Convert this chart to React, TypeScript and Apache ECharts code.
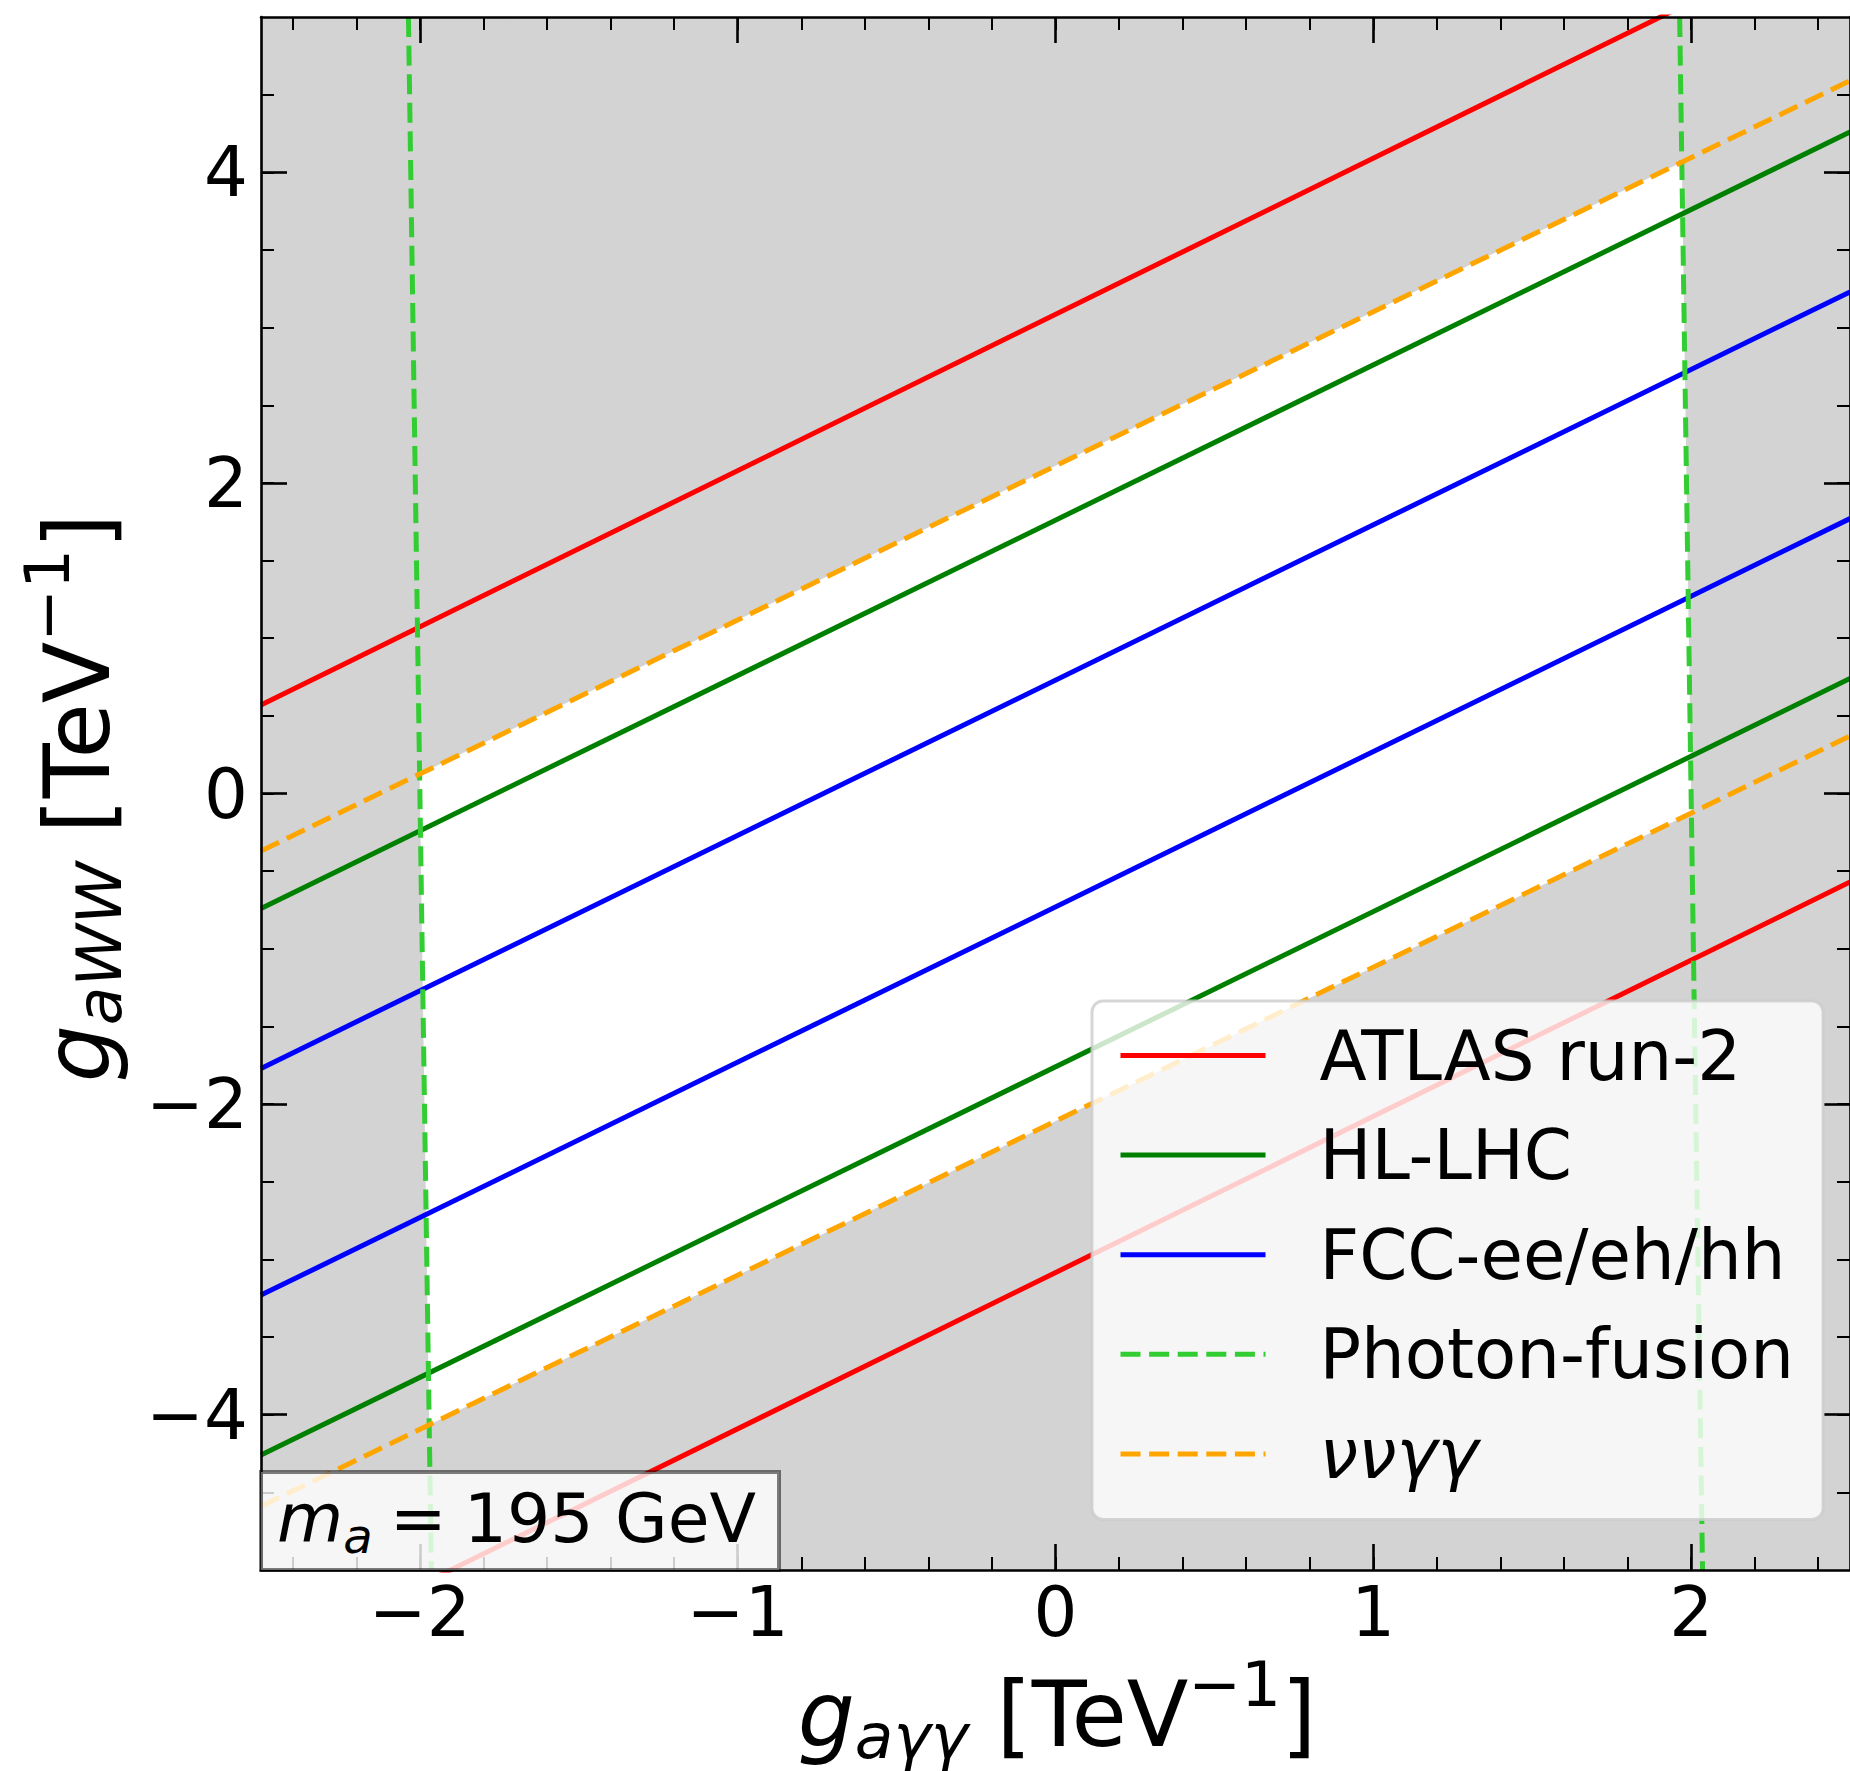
import React, { useEffect, useRef } from 'react';
import * as echarts from 'echarts';

// ---- axis ranges & ticks ----
const X_RANGE = [-2.5, 2.5];
const Y_RANGE = [-5, 5];
const X_MAJOR = [-2, -1, 0, 1, 2];
const Y_MAJOR = [-4, -2, 0, 2, 4];
const X_MINOR = [-2.4, -2.2, -2.0, -1.8, -1.6, -1.4, -1.2, -1.0, -0.8, -0.6, -0.4, -0.2, 0, 0.2, 0.4, 0.6, 0.8, 1.0, 1.2, 1.4, 1.6, 1.8, 2.0, 2.2, 2.4];
const Y_MINOR = [-4.5, -4, -3.5, -3, -2.5, -2, -1.5, -1, -0.5, 0, 0.5, 1, 1.5, 2, 2.5, 3, 3.5, 4, 4.5];

// ---- constraint boundaries [x, y] ----
const atlasUpper = [[-2.5, 0.57], [2.5, 5.6]];
const atlasLower = [[-2.5, -5.6], [2.5, -0.57]];
const hllhcUpper = [[-2.5, -0.74], [2.5, 4.26]];
const hllhcLower = [[-2.5, -4.26], [2.5, 0.74]];
const fccUpper = [[-2.5, -1.77], [2.5, 3.23]];
const fccLower = [[-2.5, -3.23], [2.5, 1.77]];
const photonLeft = [[-2.036, 5], [-1.964, -5]];
const photonRight = [[1.964, 5], [2.036, -5]];
const nnggUpper = [[-2.5, -0.37], [2.5, 4.59]];
const nnggLower = [[-2.5, -4.59], [2.5, 0.37]];

const LEGEND_NAMES = ['ATLAS run-2', 'HL-LHC', 'FCC-ee/eh/hh', 'Photon-fusion', 'ννγγ'];
const MASS_LABEL = '195 GeV';

const FONT = 'DejaVu Sans';

function intersect(a: number[][], b: number[][]): number[] {
  const [x1, y1] = a[0], [x2, y2] = a[1], [x3, y3] = b[0], [x4, y4] = b[1];
  const d = (x1 - x2) * (y3 - y4) - (y1 - y2) * (x3 - x4);
  const t = ((x1 - x3) * (y3 - y4) - (y1 - y3) * (x3 - x4)) / d;
  return [x1 + t * (x2 - x1), y1 + t * (y2 - y1)];
}

const fmt = (v: number) => (v < 0 ? '\u2212' + Math.abs(v) : String(v));

export default function App() {
  const ref = useRef<HTMLDivElement>(null);
  useEffect(() => {
    if (!ref.current) return;
    const chart = echarts.init(ref.current, undefined, { renderer: 'svg' });

    const corners = [
      intersect(photonLeft, nnggUpper),
      intersect(photonRight, nnggUpper),
      intersect(photonRight, nnggLower),
      intersect(photonLeft, nnggLower),
    ];

    const axisLineStyle = { color: '#000', width: 2.6 };
    const mkX = (position: string, major: boolean, withLabel: boolean) => ({
      type: 'value',
      gridIndex: 0,
      position,
      min: X_RANGE[0],
      max: X_RANGE[1],
      z: 5,
      axisLine: { show: major, onZero: false, lineStyle: axisLineStyle },
      axisTick: {
        show: true,
        inside: true,
        length: major ? 26 : 13,
        customValues: major ? X_MAJOR : X_MINOR,
        lineStyle: { color: '#000', width: major ? 2.6 : 2 },
      },
      axisLabel: withLabel
        ? {
            show: true,
            customValues: X_MAJOR,
            formatter: fmt,
            fontSize: 69,
            fontFamily: FONT,
            color: '#000',
            margin: 7,
          }
        : { show: false },
      splitLine: { show: false },
    });
    const mkY = (position: string, major: boolean, withLabel: boolean) => ({
      type: 'value',
      gridIndex: 0,
      position,
      min: Y_RANGE[0],
      max: Y_RANGE[1],
      z: 5,
      axisLine: { show: major, onZero: false, lineStyle: axisLineStyle },
      axisTick: {
        show: true,
        inside: true,
        length: major ? 26 : 13,
        customValues: major ? Y_MAJOR : Y_MINOR,
        lineStyle: { color: '#000', width: major ? 2.6 : 2 },
      },
      axisLabel: withLabel
        ? {
            show: true,
            customValues: Y_MAJOR,
            formatter: fmt,
            fontSize: 69,
            fontFamily: FONT,
            color: '#000',
            margin: 13,
          }
        : { show: false },
      splitLine: { show: false },
    });

    const lineSeries = (name: string, data: number[][], color: string, dashed: boolean) => ({
      type: 'line',
      name,
      data,
      xAxisIndex: 0,
      yAxisIndex: 0,
      symbol: 'none',
      showSymbol: false,
      clip: true,
      z: 3,
      lineStyle: { color, width: 5, type: dashed ? [20, 8.6] : 'solid', cap: 'butt' },
      itemStyle: { color },
      emphasis: { disabled: true },
    });

    const legendRich = {
      n: { fontSize: 69, fontFamily: FONT, color: '#000', padding: [0, 0, 0, 49], lineHeight: 72 },
      i: { fontSize: 69, fontFamily: FONT, fontStyle: 'italic', color: '#000', padding: [0, 0, 0, 49], lineHeight: 72 },
    };

    const titleRich = {
      g: { fontSize: 90, fontFamily: FONT, fontStyle: 'italic', fill: '#000' },
      s: { fontSize: 63, fontFamily: FONT, fontStyle: 'italic', fill: '#000', padding: [45, 0, 0, 0] },
      t: { fontSize: 90, fontFamily: FONT, fill: '#000' },
      p: { fontSize: 63, fontFamily: FONT, fill: '#000', padding: [0, 0, 59, 0] },
    };

    chart.setOption({
      animation: false,
      grid: {
        left: 261,
        top: 17,
        width: 1597,
        height: 1553,
        show: true,
        backgroundColor: '#d3d3d3',
        borderWidth: 0,
        containLabel: false,
      },
      xAxis: [mkX('bottom', true, true), mkX('top', true, false), mkX('bottom', false, false), mkX('top', false, false)],
      yAxis: [mkY('left', true, true), mkY('right', true, false), mkY('left', false, false), mkY('right', false, false)],
      legend: {
        data: LEGEND_NAMES,
        orient: 'vertical',
        left: 1092,
        top: 1001,
        padding: [20, 29, 31, 26],
        itemWidth: 145,
        itemHeight: 14,
        itemGap: 30.6,
        selectedMode: false,
        backgroundColor: 'rgba(255,255,255,0.8)',
        borderColor: 'rgba(204,204,204,0.8)',
        borderWidth: 3,
        borderRadius: 11,
        z: 10,
        itemStyle: { opacity: 0, borderWidth: 0 },
        lineStyle: { width: 5 },
        formatter: (name: string) => (name === 'ννγγ' ? '{i|' + name + '}' : '{n|' + name + '}'),
        textStyle: { fontSize: 69, fontFamily: FONT, color: '#000', rich: legendRich },
      },
      graphic: [
        {
          type: 'rect',
          z: 100,
          shape: { x: 261, y: 1472, width: 518, height: 98 },
          style: { fill: 'rgba(255,255,255,0.8)', stroke: 'rgba(0,0,0,0.5)', lineWidth: 4 },
        },
        {
          type: 'text',
          z: 101,
          x: 277,
          y: 1518,
          style: {
            text: '{m|m}{s|a}{e|=}{t|' + MASS_LABEL + '}',
            align: 'left',
            verticalAlign: 'middle',
            rich: {
              m: { fontSize: 68, lineHeight: 60, fontFamily: FONT, fontStyle: 'italic', fill: '#000' },
              s: { fontSize: 48, lineHeight: 60, fontFamily: FONT, fontStyle: 'italic', fill: '#000', padding: [35, 0, 0, 0] },
              e: { fontSize: 68, lineHeight: 60, fontFamily: FONT, fill: '#000', padding: [0, 17, 0, 17] },
              t: { fontSize: 68, lineHeight: 60, fontFamily: FONT, fill: '#000' },
            },
          },
        },
        {
          type: 'text',
          z: 101,
          x: 1057,
          y: 1714,
          style: {
            text: '{g|g}{s|aγγ}{t| [TeV}{p|\u22121}{t|]}',
            align: 'center',
            verticalAlign: 'middle',
            rich: titleRich,
          },
        },
        {
          type: 'text',
          z: 101,
          x: 77,
          y: 798,
          rotation: Math.PI / 2,
          style: {
            text: '{g|g}{s|aWW}{t| [TeV}{p|\u22121}{t|]}',
            align: 'center',
            verticalAlign: 'middle',
            rich: titleRich,
          },
        },
      ],
      series: [
        {
          type: 'custom',
          xAxisIndex: 0,
          yAxisIndex: 0,
          z: 1,
          clip: true,
          silent: true,
          data: [[0, 0]],
          renderItem: (params: any, api: any) => ({
            type: 'polygon',
            shape: { points: corners.map((c) => api.coord(c)) },
            style: { fill: '#ffffff', stroke: null },
          }),
        },
        lineSeries('ATLAS run-2', atlasUpper, '#ff0000', false),
        lineSeries('ATLAS run-2', atlasLower, '#ff0000', false),
        lineSeries('HL-LHC', hllhcUpper, '#008000', false),
        lineSeries('HL-LHC', hllhcLower, '#008000', false),
        lineSeries('FCC-ee/eh/hh', fccUpper, '#0000ff', false),
        lineSeries('FCC-ee/eh/hh', fccLower, '#0000ff', false),
        lineSeries('Photon-fusion', photonLeft, '#32cd32', true),
        lineSeries('Photon-fusion', photonRight, '#32cd32', true),
        lineSeries('ννγγ', nnggUpper, '#ffa500', true),
        lineSeries('ννγγ', nnggLower, '#ffa500', true),
      ],
    });
    return () => chart.dispose();
  }, []);

  return (
    <div
      ref={ref}
      style={{ position: 'absolute', left: 0, top: 0, width: 1850, height: 1771, background: '#fff' }}
    />
  );
}
